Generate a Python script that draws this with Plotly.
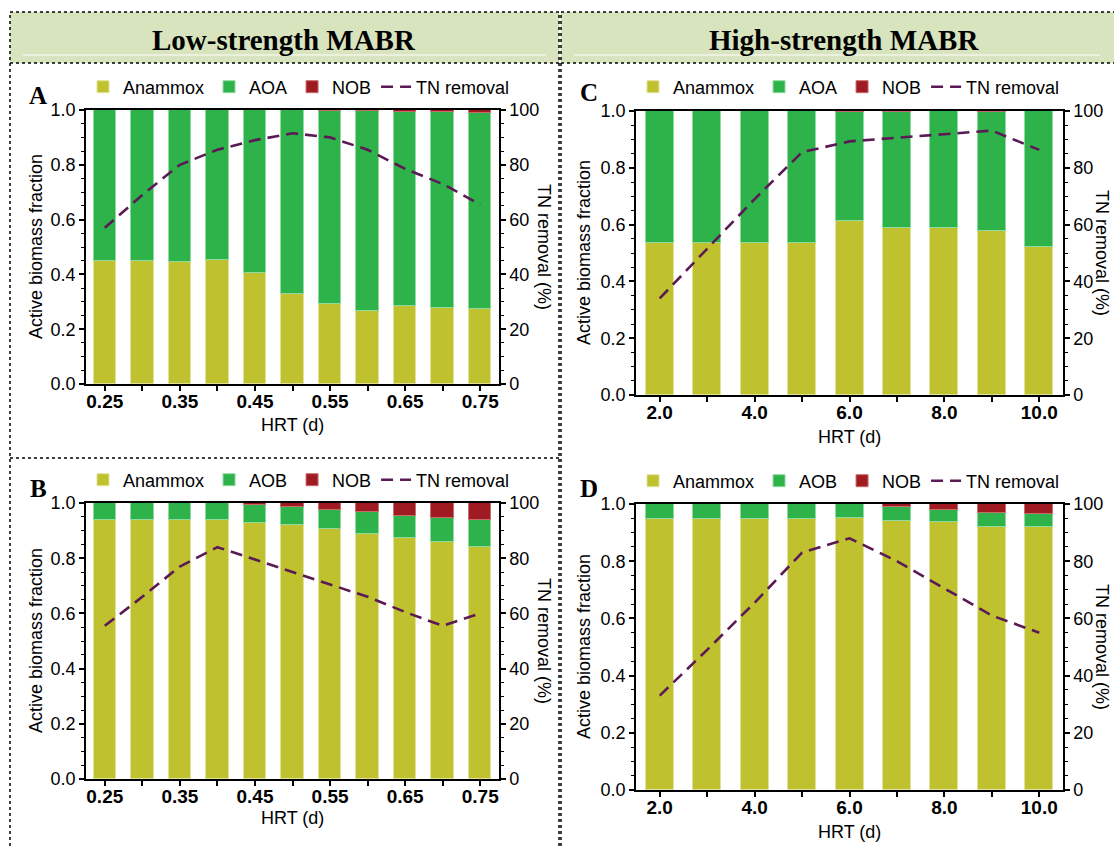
import plotly.graph_objects as go

W, H = 1114, 846

# ---------------- data ----------------
hrt_low = [0.25, 0.30, 0.35, 0.40, 0.45, 0.50, 0.55, 0.60, 0.65, 0.70, 0.75]
hrt_low_labels = ["0.25", "", "0.35", "", "0.45", "", "0.55", "", "0.65", "", "0.75"]
hrt_high = [2, 3, 4, 5, 6, 7, 8, 9, 10]
hrt_high_labels = ["2.0", "", "4.0", "", "6.0", "", "8.0", "", "10.0"]

A_anammox = [0.450, 0.450, 0.447, 0.453, 0.406, 0.330, 0.293, 0.268, 0.286, 0.278, 0.273]
A_aoa = [0.550, 0.550, 0.553, 0.547, 0.594, 0.670, 0.705, 0.728, 0.707, 0.713, 0.715]
A_nob = [0.0, 0.0, 0.0, 0.0, 0.0, 0.0, 0.002, 0.004, 0.007, 0.009, 0.012]
A_tn = [57, 69, 80, 85.5, 89, 91.5, 90, 85.5, 78.5, 73, 65.5]

B_anammox = [0.940, 0.940, 0.939, 0.939, 0.929, 0.919, 0.907, 0.887, 0.875, 0.857, 0.842]
B_aob = [0.060, 0.060, 0.061, 0.061, 0.063, 0.065, 0.069, 0.079, 0.079, 0.090, 0.095]
B_nob = [0.0, 0.0, 0.0, 0.0, 0.008, 0.016, 0.024, 0.034, 0.046, 0.053, 0.063]
B_tn = [55.5, 66, 77, 84, 79.5, 75, 70.5, 66, 60.5, 55.5, 60]

C_anammox = [0.534, 0.534, 0.534, 0.534, 0.613, 0.588, 0.588, 0.577, 0.520]
C_aoa = [0.466, 0.466, 0.466, 0.466, 0.384, 0.409, 0.412, 0.420, 0.480]
C_nob = [0.0, 0.0, 0.0, 0.0, 0.003, 0.003, 0.0, 0.003, 0.0]
C_tn = [34, 51.5, 69, 85.5, 89.3, 90.6, 91.8, 93.1, 86.3]

D_anammox = [0.949, 0.949, 0.949, 0.949, 0.951, 0.942, 0.936, 0.921, 0.921]
D_aob = [0.051, 0.051, 0.051, 0.051, 0.049, 0.049, 0.044, 0.049, 0.044]
D_nob = [0.0, 0.0, 0.0, 0.0, 0.0, 0.009, 0.020, 0.030, 0.035]
D_tn = [33, 49, 65.5, 83, 88, 80, 70.5, 61, 55]

# ---------------- style ----------------
C_ANA = "#BFC12F"
C_GRN = "#2EB34B"
C_NOB = "#A01B21"
C_TN = "#5B1A55"
FONT = "Liberation Sans, Arial, sans-serif"
SERIF = "Liberation Serif, Times New Roman, serif"
HEADER_FILL = "#D7E4BD"


def px(x):
    return x / W


def py(y):
    return 1 - y / H


panels = [
    dict(key="A", x=hrt_low, labels=hrt_low_labels, rng=[0.225, 0.775], width=0.03,
         ana=A_anammox, mid=A_aoa, midname="AOA", nob=A_nob, tn=A_tn,
         dom_x=(86, 499), dom_y=(110, 384), letter=(38, 96), legend=(83, 87),
         ytitle_x=36, y2title_x=544, xtitle_y=425),
    dict(key="B", x=hrt_low, labels=hrt_low_labels, rng=[0.225, 0.775], width=0.03,
         ana=B_anammox, mid=B_aob, midname="AOB", nob=B_nob, tn=B_tn,
         dom_x=(86, 499), dom_y=(503, 779), letter=(38, 488), legend=(83, 480),
         ytitle_x=36, y2title_x=544, xtitle_y=818),
    dict(key="C", x=hrt_high, labels=hrt_high_labels, rng=[1.5, 10.5], width=0.59,
         ana=C_anammox, mid=C_aoa, midname="AOA", nob=C_nob, tn=C_tn,
         dom_x=(636, 1063), dom_y=(111, 395), letter=(589, 92), legend=(633, 87),
         ytitle_x=584, y2title_x=1102, xtitle_y=437),
    dict(key="D", x=hrt_high, labels=hrt_high_labels, rng=[1.5, 10.5], width=0.59,
         ana=D_anammox, mid=D_aob, midname="AOB", nob=D_nob, tn=D_tn,
         dom_x=(636, 1063), dom_y=(504, 790), letter=(589, 488), legend=(633, 481),
         ytitle_x=584, y2title_x=1102, xtitle_y=832),
]

fig = go.Figure()
layout = dict(
    width=W, height=H, margin=dict(l=0, r=0, t=0, b=0, pad=0, autoexpand=False),
    paper_bgcolor="white", plot_bgcolor="rgba(0,0,0,0)",
    barmode="stack", bargap=0,
    font=dict(family=FONT, size=18, color="black"),
    annotations=[], shapes=[],
)

for i, p in enumerate(panels):
    n = i + 1
    xa = "x" if n == 1 else f"x{n}"
    ya = f"y{2 * n - 1}" if n > 1 else "y"
    y2a = f"y{2 * n}"
    leg = "legend" if n == 1 else f"legend{n}"
    xkey = "xaxis" if n == 1 else f"xaxis{n}"
    ykey = "yaxis" if n == 1 else f"yaxis{2 * n - 1}"
    y2key = f"yaxis{2 * n}"

    x0, x1 = p["dom_x"]
    ytop, ybot = p["dom_y"]

    for name, vals, col, lc in [("Anammox", p["ana"], C_ANA, "#E2E39A"),
                                (p["midname"], p["mid"], C_GRN, "#8FDB9F"),
                                ("NOB", p["nob"], C_NOB, "#C96A6D")]:
        fig.add_trace(go.Bar(
            x=p["x"], y=vals, name=name, width=p["width"],
            marker=dict(color=col, line=dict(color=lc, width=1)),
            xaxis=xa, yaxis=ya, legend=leg, showlegend=True,
        ))
    fig.add_trace(go.Scatter(
        x=p["x"], y=p["tn"], name="TN removal", mode="lines",
        line=dict(color=C_TN, width=2.6, dash="12px,7px"),
        xaxis=xa, yaxis=y2a, legend=leg,
    ))

    layout[xkey] = dict(
        domain=[px(x0), px(x1)], anchor=ya, range=p["rng"],
        tickmode="array", tickvals=p["x"],
        ticktext=[f"<b>{t}</b>" if t else "" for t in p["labels"]],
        ticks="outside", ticklen=5, tickwidth=1.5, tickcolor="black",
        showline=True, linewidth=2, linecolor="black", mirror=True,
        showgrid=False, zeroline=False, automargin=False,
        tickfont=dict(size=19, family=FONT, color="black"),
    )
    layout[ykey] = dict(
        domain=[py(ybot), py(ytop)], anchor=xa, range=[0, 1],
        tickmode="linear", tick0=0, dtick=0.2, tickformat=".1f",
        ticks="outside", ticklen=5, tickwidth=1.5, tickcolor="black",
        minor=dict(dtick=0.05, ticks="outside", ticklen=3, tickwidth=1, tickcolor="black", showgrid=False),
        showline=True, linewidth=1.5, linecolor="black",
        showgrid=False, zeroline=False, automargin=False,
        tickfont=dict(size=18, family=FONT, color="black"),
    )
    layout[y2key] = dict(
        overlaying=ya, side="right", anchor=xa, range=[0, 100],
        tickmode="linear", tick0=0, dtick=20,
        ticks="outside", ticklen=5, tickwidth=1.5, tickcolor="black",
        minor=dict(dtick=5, ticks="outside", ticklen=3, tickwidth=1, tickcolor="black", showgrid=False),
        showline=True, linewidth=1.5, linecolor="black",
        showgrid=False, zeroline=False, automargin=False,
        tickfont=dict(size=18, family=FONT, color="black"),
    )
    layout[leg] = dict(
        x=px(p["legend"][0]), y=py(p["legend"][1]), xanchor="left", yanchor="middle",
        orientation="h", traceorder="normal", bgcolor="rgba(0,0,0,0)",
        font=dict(size=18, family=FONT, color="black"), itemwidth=30,
        tracegroupgap=0,
    )

    cy = (ytop + ybot) / 2
    cx = (x0 + x1) / 2
    layout["annotations"] += [
        dict(text="Active biomass fraction", x=px(p["ytitle_x"]), y=py(cy), xref="paper", yref="paper",
             textangle=-90, showarrow=False, xanchor="center", yanchor="middle",
             font=dict(size=18, family=FONT, color="black")),
        dict(text="TN removal (%)", x=px(p["y2title_x"]), y=py(cy), xref="paper", yref="paper",
             textangle=90, showarrow=False, xanchor="center", yanchor="middle",
             font=dict(size=18, family=FONT, color="black")),
        dict(text="HRT (d)", x=px(cx), y=py(p["xtitle_y"]), xref="paper", yref="paper",
             showarrow=False, xanchor="center", yanchor="middle",
             font=dict(size=18, family=FONT, color="black")),
        dict(text=f"<b>{p['key']}</b>", x=px(p["letter"][0]), y=py(p["letter"][1]), xref="paper", yref="paper",
             showarrow=False, xanchor="center", yanchor="middle",
             font=dict(size=25, family=SERIF, color="black")),
    ]

# headers
for (hx0, hx1, tx, txt) in [(10, 559, 284, "Low-strength MABR"), (561, 1125, 844, "High-strength MABR")]:
    layout["shapes"].append(dict(type="rect", xref="paper", yref="paper",
                                 x0=px(hx0), x1=px(hx1), y0=py(63), y1=py(12),
                                 fillcolor=HEADER_FILL, line=dict(color="black", width=1.5, dash="dot"),
                                 layer="below"))
    layout["shapes"].append(dict(type="line", xref="paper", yref="paper",
                                 x0=px(hx0 + 13), x1=px(hx1 - 13 if hx1 < 1114 else 1100), y0=py(55), y1=py(55),
                                 line=dict(color="#F2F6EA", width=1.5)))
    layout["annotations"].append(dict(text=f"<b>{txt}</b>", x=px(tx), y=py(40), xref="paper", yref="paper",
                                      showarrow=False, xanchor="center", yanchor="middle",
                                      font=dict(size=29, family=SERIF, color="black")))

# panel borders (dotted)
for (a, b, c, d) in [(10, 63, 10, 846), (559, 63, 559, 846), (10, 458, 559, 458), (561, 63, 561, 846)]:
    layout["shapes"].append(dict(type="line", xref="paper", yref="paper",
                                 x0=px(a), y0=py(b), x1=px(c), y1=py(d),
                                 line=dict(color="black", width=1.5, dash="dot")))

fig.update_layout(**layout)

# pull the bold x tick labels a little closer to the axis, as in the reference
for k in ["xaxis", "xaxis2", "xaxis3", "xaxis4"]:
    try:
        fig.layout[k].ticklabelstandoff = -6
    except Exception:
        pass

fig.write_html("out.html")
